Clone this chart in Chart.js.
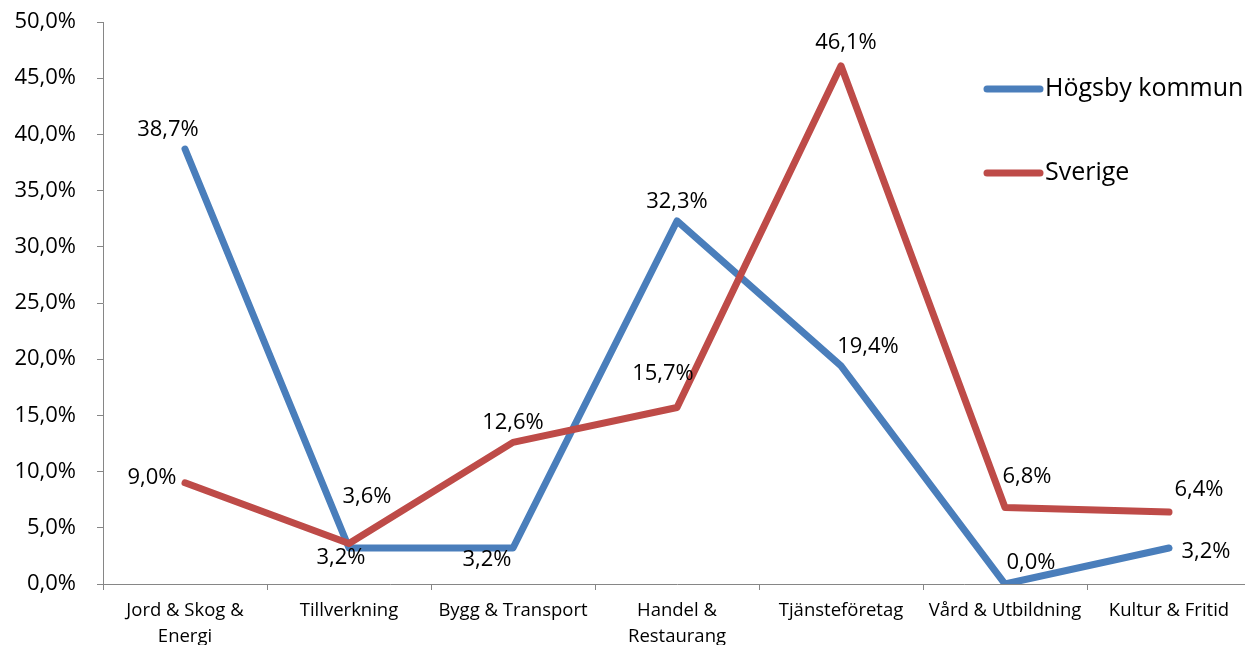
<!DOCTYPE html>
<html>
<head>
<meta charset="utf-8">
<script src="https://cdn.jsdelivr.net/npm/chart.js@4"></script>
<style>
    html, body { margin: 0; padding: 0; background: #fff; overflow: hidden; }
    #wrap { position: relative; width: 1256px; height: 645px; }
</style>
</head>
<body>
<div id="wrap"><canvas id="chart" width="1256" height="645"></canvas></div>
<script>
/* Data */
const categories = [
    ["Jord & Skog &", "Energi"],
    "Tillverkning",
    "Bygg & Transport",
    ["Handel &", "Restaurang"],
    "Tjänsteföretag",
    "Vård & Utbildning",
    "Kultur & Fritid"
];
const seriesNames = ["Högsby kommun", "Sverige"];
const hogsby = [38.7, 3.2, 3.2, 32.3, 19.4, 0.0, 3.2];
const sverige = [9.0, 3.6, 12.6, 15.7, 46.1, 6.8, 6.4];
const yMin = 0, yMax = 50, yStep = 5;

/* Label placement (offset from point, px) */
const hogsbyLabelOffsets = [[-17, -19], [-8, 10], [-26, 12], [0, -19], [27, -19], [26, -21], [37, 4]];
const sverigeLabelOffsets = [[-33, -5], [18, -47], [0, -20], [-14, -34], [5, -23], [22, -31], [30, -22]];

const BLUE = "#4A7EBB";
const RED = "#BE4B48";
const AXIS = "#868686";
const FONT = "'Open Sans', sans-serif";

function pct(v) {
    return v.toFixed(1).replace(".", ",") + "%";
}

/* Data labels */
const valueLabels = {
    id: "valueLabels",
    afterDatasetsDraw(chart) {
        const ctx = chart.ctx;
        const offsets = [hogsbyLabelOffsets, sverigeLabelOffsets];
        ctx.save();
        ctx.font = "22px " + FONT;
        ctx.fillStyle = "#000";
        ctx.textAlign = "center";
        ctx.textBaseline = "middle";
        chart.data.datasets.forEach((ds, i) => {
            const meta = chart.getDatasetMeta(i);
            meta.data.forEach((pt, j) => {
                const o = offsets[i][j];
                ctx.fillText(pct(ds.data[j]), pt.x + o[0], pt.y + o[1]);
            });
        });
        ctx.restore();
    }
};

/* Legend inside the plot */
const sideLegend = {
    id: "sideLegend",
    afterDraw(chart) {
        const ctx = chart.ctx;
        const colors = [BLUE, RED];
        const rows = [89, 173];
        ctx.save();
        ctx.font = "25px " + FONT;
        ctx.textBaseline = "middle";
        ctx.fillStyle = "#000";
        seriesNames.forEach((name, i) => {
            ctx.strokeStyle = colors[i];
            ctx.lineWidth = 7;
            ctx.lineCap = "round";
            ctx.beginPath();
            ctx.moveTo(987, rows[i]);
            ctx.lineTo(1040, rows[i]);
            ctx.stroke();
            ctx.fillText(name, 1045, rows[i]);
        });
        ctx.restore();
    }
};

new Chart(document.getElementById("chart"), {
    type: "line",
    data: {
        labels: categories,
        datasets: [{
            label: seriesNames[0],
            data: hogsby,
            borderColor: BLUE,
            borderWidth: 7,
            order: 2
        }, {
            label: seriesNames[1],
            data: sverige,
            borderColor: RED,
            borderWidth: 7,
            order: 1
        }]
    },
    options: {
        responsive: false,
        animation: false,
        devicePixelRatio: 1,
        elements: {
            point: { radius: 0, hoverRadius: 0 },
            line: { tension: 0, borderCapStyle: "round", borderJoinStyle: "round", fill: false }
        },
        layout: { padding: { top: 22, right: 5, left: 0, bottom: 0 } },
        plugins: {
            legend: { display: false },
            tooltip: { enabled: false }
        },
        scales: {
            x: {
                offset: true,
                grid: { offset: true, drawOnChartArea: false, drawTicks: true, tickLength: 6, color: AXIS },
                border: { color: AXIS, width: 1 },
                ticks: {
                    color: "#000",
                    font: { family: FONT, size: 18.5, lineHeight: 1.4 },
                    padding: 8,
                    maxRotation: 0,
                    autoSkip: false
                },
                afterFit: s => { s.height = 61; }
            },
            y: {
                min: yMin,
                max: yMax,
                grid: { drawOnChartArea: false, drawTicks: true, tickLength: 6, color: AXIS },
                border: { color: AXIS, width: 1 },
                ticks: {
                    stepSize: yStep,
                    color: "#000",
                    font: { family: FONT, size: 22 },
                    padding: 21,
                    callback: v => pct(v)
                },
                afterFit: s => {
                    s.width = 103;
                    s.paddingTop = 0;
                    s.paddingBottom = 0;
                }
            }
        }
    },
    plugins: [valueLabels, sideLegend]
});
</script>
</body>
</html>
